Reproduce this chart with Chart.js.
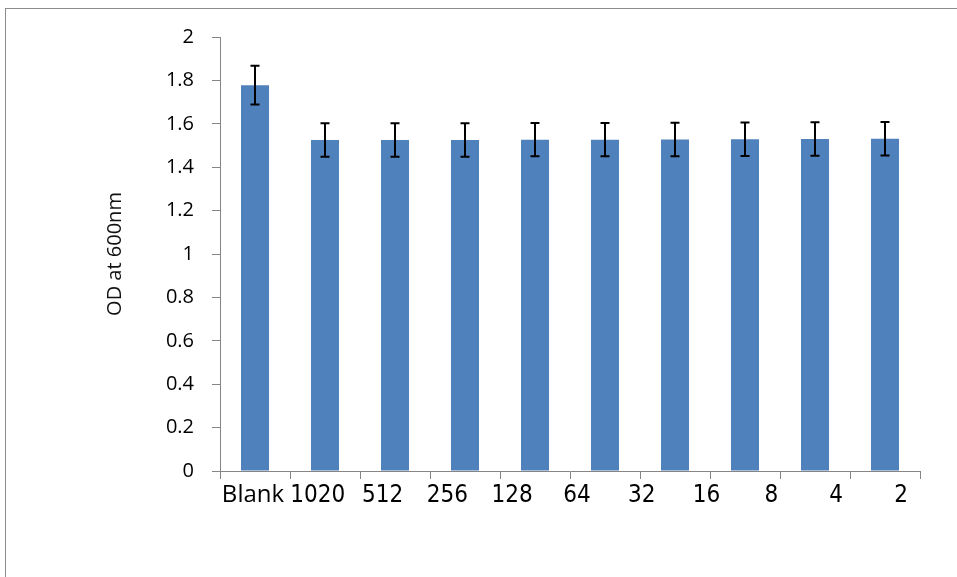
<!DOCTYPE html>
<html>
<head>
<meta charset="utf-8">
<script src="https://cdn.jsdelivr.net/npm/chart.js@4"></script>
<style>
  body { margin: 0; background: #fff; overflow: hidden; }
  #moldura { position: absolute; left: 5px; top: 8px; width: 1000px; height: 1000px;
    border-top: 1px solid #8c8c8c; border-left: 1px solid #8c8c8c; }
  #grafico-od { position: absolute; left: 0; top: 0; }
</style>
</head>
<body>
<div id="moldura"></div>
<canvas id="grafico-od" width="957" height="577"></canvas>
<script>
// rótulos do eixo x (11 textos para 10 barras, como no original)
const tickLabels = ['Blank', '1020', '512', '256', '128', '64', '32', '16', '8', '4', '2'];
const odValues = [1.778, 1.525, 1.525, 1.525, 1.527, 1.527, 1.528, 1.529, 1.530, 1.531];
const odErrors = [0.089, 0.077, 0.077, 0.077, 0.077, 0.077, 0.077, 0.077, 0.077, 0.077];
const yTicks = [0, 0.2, 0.4, 0.6, 0.8, 1, 1.2, 1.4, 1.6, 1.8, 2];

const barSlots = tickLabels.slice(0, odValues.length);

// barras de erro desenhadas com a escala y do próprio gráfico
const errorBars = {
    id: 'errorBars',
    afterDatasetsDraw(chart) {
        const c = chart.ctx;
        const y = chart.scales.y;
        const meta = chart.getDatasetMeta(0);
        c.save();
        c.strokeStyle = '#000';
        c.lineWidth = 2;
        meta.data.forEach((bar, i) => {
            const top = y.getPixelForValue(odValues[i] + odErrors[i]);
            const bottom = y.getPixelForValue(odValues[i] - odErrors[i]);
            c.beginPath();
            c.moveTo(bar.x, top);
            c.lineTo(bar.x, bottom);
            c.moveTo(bar.x - 4.5, top);
            c.lineTo(bar.x + 4.5, top);
            c.moveTo(bar.x - 4.5, bottom);
            c.lineTo(bar.x + 4.5, bottom);
            c.stroke();
        });
        c.restore();
    }
};

const ctx = document.getElementById('grafico-od');
new Chart(ctx, {
    type: 'bar',
    data: {
        labels: barSlots,
        datasets: [{
            label: 'OD at 600nm',
            data: odValues,
            backgroundColor: '#4F81BD',
            borderWidth: 0,
            barPercentage: 0.4,
            categoryPercentage: 1
        }]
    },
    options: {
        responsive: false,
        animation: false,
        layout: { padding: { top: 37, right: 37, left: 0, bottom: 0 } },
        plugins: {
            legend: { display: false },
            tooltip: { enabled: false }
        },
        scales: {
            x: {
                position: 'bottom',
                grid: { drawOnChartArea: false, tickLength: 8, color: '#868686', offset: true },
                border: { color: '#868686' },
                ticks: { display: false },
                afterFit(scale) { scale.height = 8; }
            },
            x2: {
                type: 'linear',
                position: 'bottom',
                offset: false,
                min: -0.509,
                max: 10.293,
                grid: { display: false, drawTicks: false, offset: false },
                border: { display: false },
                afterBuildTicks(scale) {
                    scale.ticks = tickLabels.map((t, i) => ({ value: i }));
                },
                ticks: {
                    autoSkip: false,
                    maxRotation: 0,
                    padding: 2,
                    color: '#000',
                    callback: (v) => tickLabels[v],
                    font: (c) => c.index === 0
                        ? { family: '"Open Sans", sans-serif', size: 24 }
                        : { family: '"Liberation Sans Narrow", "DejaVu Sans Condensed", sans-serif', size: 24 }
                },
                afterFit(scale) { scale.height = 98; }
            },
            y: {
                min: 0,
                max: 2,
                afterBuildTicks(scale) {
                    scale.ticks = yTicks.map(v => ({ value: v }));
                },
                grid: { drawOnChartArea: false, tickLength: 8, color: '#868686' },
                border: { color: '#868686' },
                ticks: {
                    padding: 18,
                    color: '#000',
                    font: { family: '"Open Sans", sans-serif', size: 20 },
                    callback: (v) => String(Math.round(v * 10) / 10)
                },
                title: {
                    display: true,
                    text: 'OD at 600nm',
                    color: '#111',
                    padding: { top: 103, bottom: 0 },
                    font: { family: '"Open Sans", sans-serif', size: 20, weight: 'normal' }
                },
                afterFit(scale) { scale.width = 220; }
            }
        }
    },
    plugins: [errorBars]
});
</script>
</body>
</html>
